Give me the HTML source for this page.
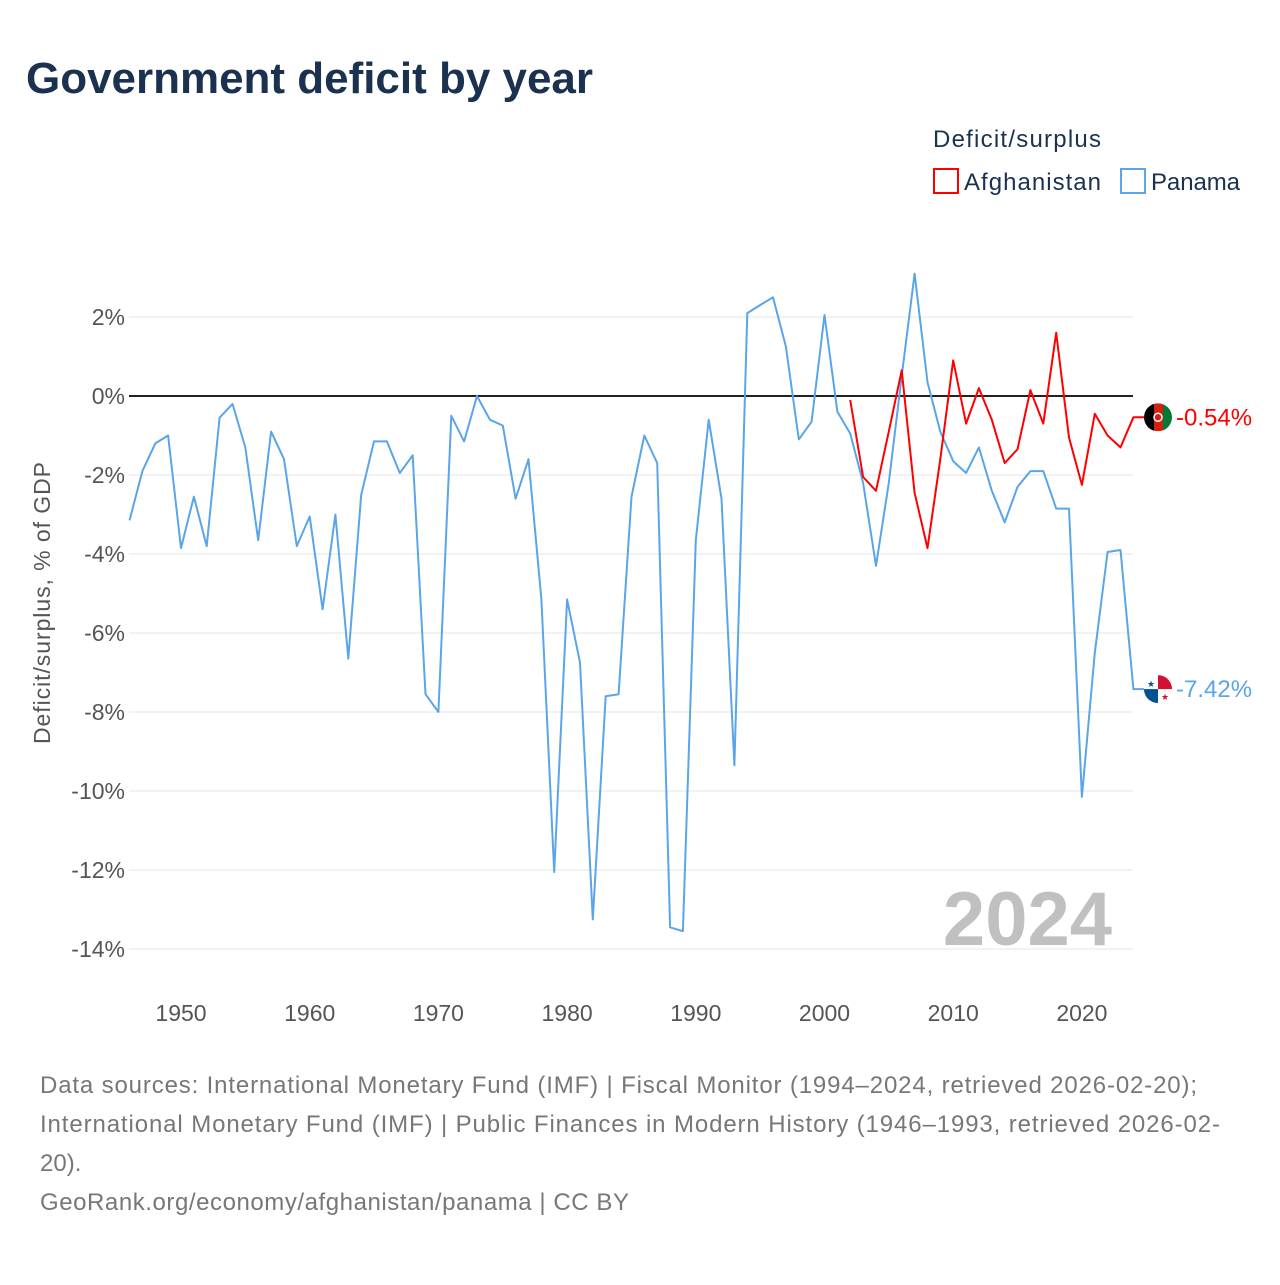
<!DOCTYPE html>
<html><head><meta charset="utf-8"><style>
body{margin:0;background:#fff;font-family:"Liberation Sans",sans-serif;}
svg text{font-family:"Liberation Sans",sans-serif;}
</style></head><body>
<svg id="chart" width="1280" height="1280" viewBox="0 0 1280 1280">
<defs><clipPath id="fc"><circle cx="0" cy="0" r="14"/></clipPath></defs>
<text x="26" y="93" font-size="44" font-weight="bold" fill="#1a3150" textLength="567">Government deficit by year</text>
<text x="933" y="147" font-size="24" fill="#1a3150" textLength="168">Deficit/surplus</text>
<g><rect x="934" y="169" width="24" height="24" fill="none" stroke="#ff0000" stroke-width="2"/><text x="964" y="190" font-size="24" fill="#1a3150" textLength="137">Afghanistan</text></g>
<g><rect x="1121" y="169" width="24" height="24" fill="none" stroke="#5aa5ea" stroke-width="2"/><text x="1151" y="190" font-size="24" fill="#1a3150" textLength="89">Panama</text></g>
<text transform="translate(50,603) rotate(-90)" text-anchor="middle" font-size="23" fill="#555" textLength="282">Deficit/surplus, % of GDP</text>
<text x="1112" y="945" text-anchor="end" font-size="76" font-weight="bold" fill="#c0c0c0">2024</text>
<g id="grid"></g><g id="series"></g>
<text x="40" y="1093" font-size="24" fill="#777" textLength="1157">Data sources: International Monetary Fund (IMF) | Fiscal Monitor (1994–2024, retrieved 2026-02-20);</text>
<text x="40" y="1132" font-size="24" fill="#777" textLength="1180">International Monetary Fund (IMF) | Public Finances in Modern History (1946–1993, retrieved 2026-02-</text>
<text x="40" y="1171" font-size="24" fill="#777">20).</text>
<text x="40" y="1210" font-size="24" fill="#777" textLength="589">GeoRank.org/economy/afghanistan/panama | CC BY</text>
</svg>
<script>
const yTicks=[2,0,-2,-4,-6,-8,-10,-12,-14];
const xTicks=[1950,1960,1970,1980,1990,2000,2010,2020];
const panamaStart=1946;
const panama=[-3.15,-1.9,-1.2,-1.0,-3.85,-2.55,-3.8,-0.55,-0.2,-1.3,-3.65,-0.9,-1.6,-3.8,-3.05,-5.4,-3.0,-6.65,-2.5,-1.15,-1.15,-1.95,-1.5,-7.55,-8.0,-0.5,-1.15,0.0,-0.6,-0.75,-2.6,-1.6,-5.15,-12.05,-5.15,-6.75,-13.25,-7.6,-7.55,-2.55,-1.0,-1.7,-13.45,-13.55,-3.65,-0.6,-2.6,-9.35,2.1,2.3,2.5,1.25,-1.1,-0.65,2.05,-0.4,-0.95,-2.2,-4.3,-2.2,0.5,3.1,0.35,-0.9,-1.65,-1.95,-1.3,-2.4,-3.2,-2.3,-1.9,-1.9,-2.85,-2.85,-10.15,-6.5,-3.95,-3.9,-7.42];
const afgStart=2002;
const afghanistan=[-0.1,-2.05,-2.4,-0.9,0.65,-2.45,-3.85,-1.6,0.9,-0.7,0.2,-0.6,-1.7,-1.35,0.15,-0.7,1.6,-1.05,-2.25,-0.45,-1.0,-1.3,-0.54];
const X=y=>181+(y-1950)*12.87;
const Y=v=>396-v*39.5;
const NS="http://www.w3.org/2000/svg";
const grid=document.getElementById('grid'),ser=document.getElementById('series');
function mk(tag,attrs,parent){const e=document.createElementNS(NS,tag);for(const k in attrs)e.setAttribute(k,attrs[k]);parent.appendChild(e);return e;}
yTicks.forEach(v=>{
 const l=mk('line',{x1:129,x2:1133,y1:Y(v),y2:Y(v),stroke:v===0?'#222':'#e4e4e4','stroke-width':v===0?2:1},grid);
 
 
 const t=mk('text',{x:125,y:Y(v)+8,'text-anchor':'end','font-size':23,fill:'#555'},grid);
 t.textContent=v+'%';
 
 
});
xTicks.forEach(yr=>{
 const t=mk('text',{x:X(yr),y:1021,'text-anchor':'middle','font-size':23,fill:'#555'},grid);
 t.textContent=yr;
 
 
});
function flag(g,kind){
 const c=mk('g',{'clip-path':'url(#fc)'},g);
 if(kind==='afg'){
  mk('rect',{x:-14,y:-14,width:10,height:28,fill:'#000'},c);
  mk('rect',{x:-4,y:-14,width:9,height:28,fill:'#d32011'},c);
  mk('rect',{x:5,y:-14,width:9,height:28,fill:'#007a36'},c);
  mk('circle',{cx:0,cy:0,r:4,fill:'none',stroke:'#fff','stroke-width':1.5},c);
 }else{
  mk('rect',{x:-14,y:-14,width:28,height:28,fill:'#fff'},c);
  mk('rect',{x:0,y:-14,width:14,height:14,fill:'#d21034'},c);
  mk('rect',{x:-14,y:0,width:14,height:14,fill:'#005293'},c);
  mk('text',{x:-7,y:-2,'font-size':9,'text-anchor':'middle',fill:'#005293'},c).textContent='★';
  mk('text',{x:7,y:11,'font-size':9,'text-anchor':'middle',fill:'#d21034'},c).textContent='★';
 }
}
function line(data,start,color,name,kind){
 const pts=data.map((v,i)=>X(start+i).toFixed(1)+','+Y(v).toFixed(1));
 const last=data[data.length-1];
 pts.push('1145,'+Y(last).toFixed(1));
 const p=mk('polyline',{points:pts.join(' '),fill:'none',stroke:color,'stroke-width':2,'stroke-linejoin':'round'},ser);
 
 
 const g=mk('g',{transform:'translate(1158,'+Y(last).toFixed(1)+')'},ser);
 
 
 flag(g,kind);
 const t=mk('text',{x:1176,y:Y(last)+8,'font-size':24,fill:color},ser);
 t.textContent=last.toFixed(2)+'%';
 
 
}
line(panama,panamaStart,'#5aa5ea','panama','pan');
line(afghanistan,afgStart,'#ff0000','afghanistan','afg');
</script>
</body></html>
